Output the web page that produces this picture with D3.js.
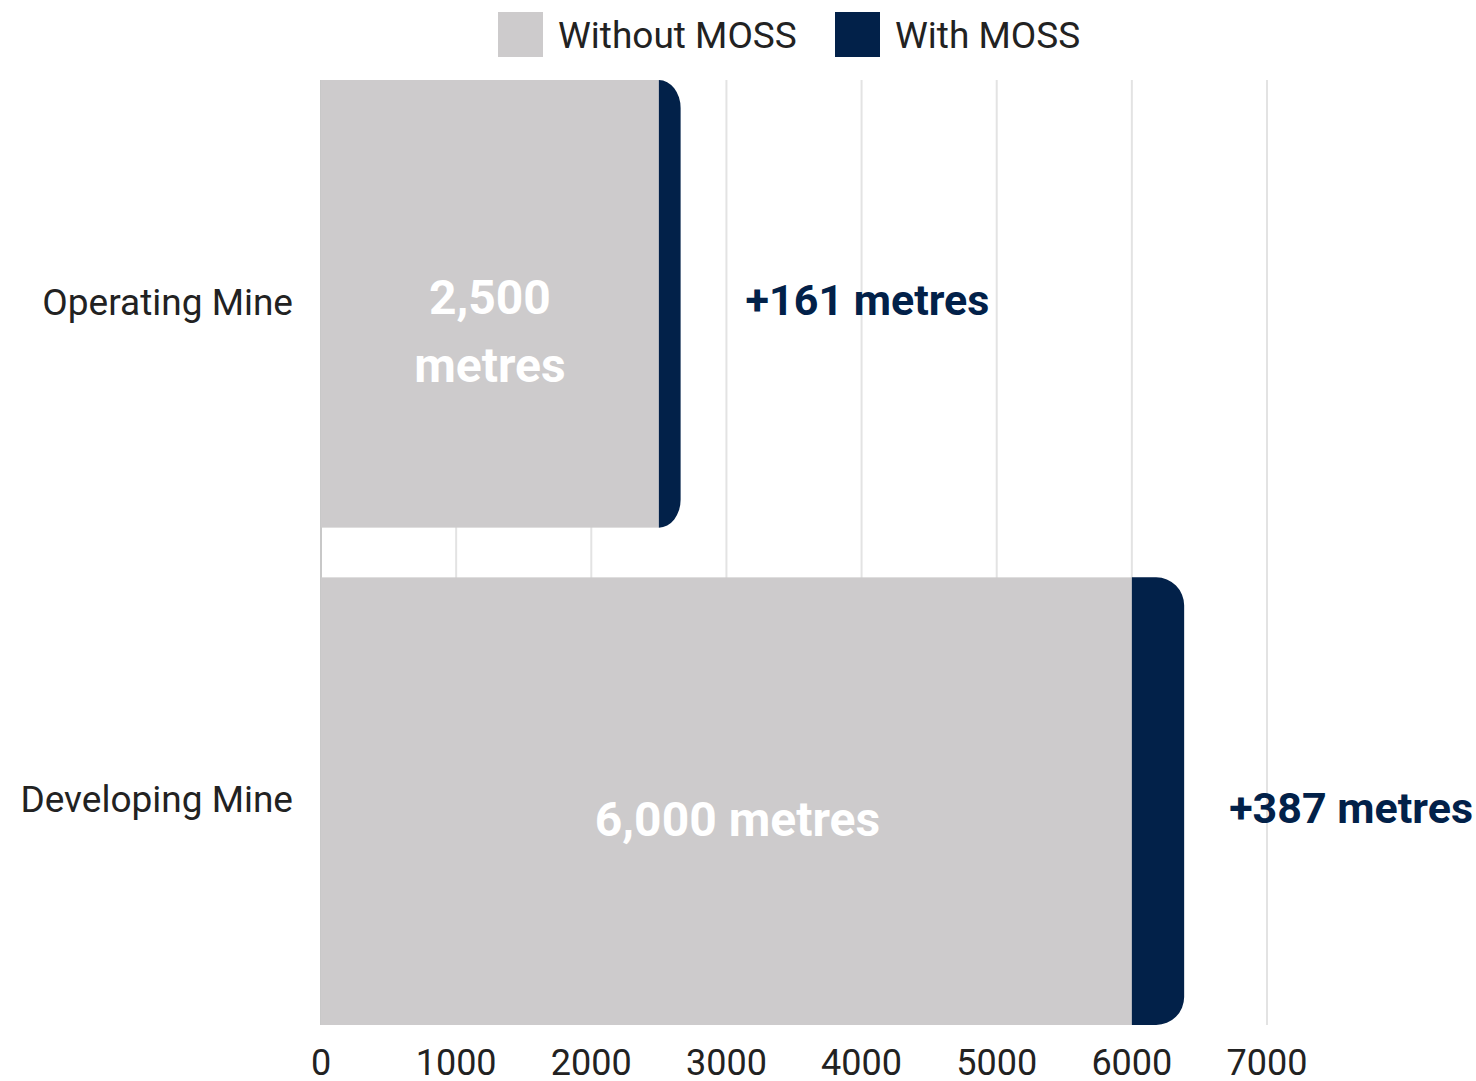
<!DOCTYPE html>
<html><head><meta charset="utf-8">
<script src="https://cdn.jsdelivr.net/npm/d3@7"></script>
<style>body{margin:0;background:#fff;} svg{display:block;font-family:Roboto,"Noto Sans",sans-serif;}</style>
</head><body>
<svg id="chart" width="1476" height="1081"></svg>
<script>
const categories = ["Operating Mine", "Developing Mine"];
const withoutMoss = [2500, 6000];
const mossGain = [161, 387];
const innerLabels = [["2,500", "metres"], ["6,000 metres"]];
const gainLabels = ["+161 metres", "+387 metres"];
const xTicks = [0, 1000, 2000, 3000, 4000, 5000, 6000, 7000];
const seriesNames = ["Without MOSS", "With MOSS"];

const grey = "#cdcbcc", navy = "#022149";
const svg = d3.select("#chart");
const x = d3.scaleLinear().domain([0, 7000]).range([321, 1267]);
const y = d3.scaleBand().domain(categories).range([80, 1025]).paddingInner(0.1).paddingOuter(0);

// grid
svg.append("g").selectAll("line").data(xTicks).join("line")
  .attr("x1", d => x(d)).attr("x2", d => x(d))
  .attr("y1", 80).attr("y2", 1025)
  .attr("stroke", d => d === 0 ? "#c8c8c8" : "#e3e3e3").attr("stroke-width", 2);

// tick labels
svg.append("g").selectAll("text").data(xTicks).join("text")
  .attr("x", d => x(d)).attr("y", 1075)
  .attr("text-anchor", "middle").attr("font-size", 36).attr("fill", "#222")
  .text(d => d);

// category labels
svg.append("g").selectAll("text").data(categories).join("text")
  .attr("x", 293).attr("y", d => y(d) + y.bandwidth() / 2 + 1)
  .attr("text-anchor", "end").attr("dominant-baseline", "middle")
  .attr("font-size", 37).attr("fill", "#222").text(d => d);

// grey bars
svg.append("g").selectAll("rect").data(categories).join("rect")
  .attr("x", x(0)).attr("y", d => y(d))
  .attr("width", (d, i) => x(withoutMoss[i]) - x(0))
  .attr("height", y.bandwidth()).attr("fill", grey);

// navy rounded segments
function roundedRight(x0, x1, y0, h, r) {
  const w = x1 - x0; const rx = Math.min(r, w); const ry = r;
  return `M${x0},${y0} H${x1 - rx} A${rx},${ry} 0 0 1 ${x1},${y0 + ry} V${y0 + h - ry} A${rx},${ry} 0 0 1 ${x1 - rx},${y0 + h} H${x0} Z`;
}
svg.append("g").selectAll("path").data(categories).join("path")
  .attr("d", (d, i) => roundedRight(x(withoutMoss[i]), x(withoutMoss[i] + mossGain[i]), y(d), y.bandwidth(), 28))
  .attr("fill", navy);

// inner labels
const innerDy = [[-2, 66], [22]];
categories.forEach((c, i) => {
  const cx = (x(0) + x(withoutMoss[i])) / 2 + (i === 1 ? 11 : 0);
  innerLabels[i].forEach((t, j) => {
    svg.append("text").attr("x", cx).attr("y", y(c) + y.bandwidth() / 2 + innerDy[i][j])
      .attr("text-anchor", "middle").attr("dominant-baseline", "middle")
      .attr("font-size", 48).attr("font-weight", 700).attr("fill", "#fff").text(t);
  });
});

// gain labels
const gainDx = [65, 45], gainDy = [0, 10];
categories.forEach((c, i) => {
  svg.append("text").attr("x", x(withoutMoss[i] + mossGain[i]) + gainDx[i])
    .attr("y", y(c) + y.bandwidth() / 2 + gainDy[i])
    .attr("dominant-baseline", "middle")
    .attr("font-size", 43).attr("font-weight", 700).attr("fill", navy).text(gainLabels[i]);
});

// legend
const legX = [498, 835];
const lg = svg.append("g");
seriesNames.forEach((s, i) => {
  lg.append("rect").attr("x", legX[i]).attr("y", 12).attr("width", 45).attr("height", 45)
    .attr("fill", i === 0 ? grey : navy);
  lg.append("text").attr("x", legX[i] + 60).attr("y", 38).attr("dominant-baseline", "middle")
    .attr("font-size", 37).attr("fill", "#222").text(s);
});
</script>
</body></html>
